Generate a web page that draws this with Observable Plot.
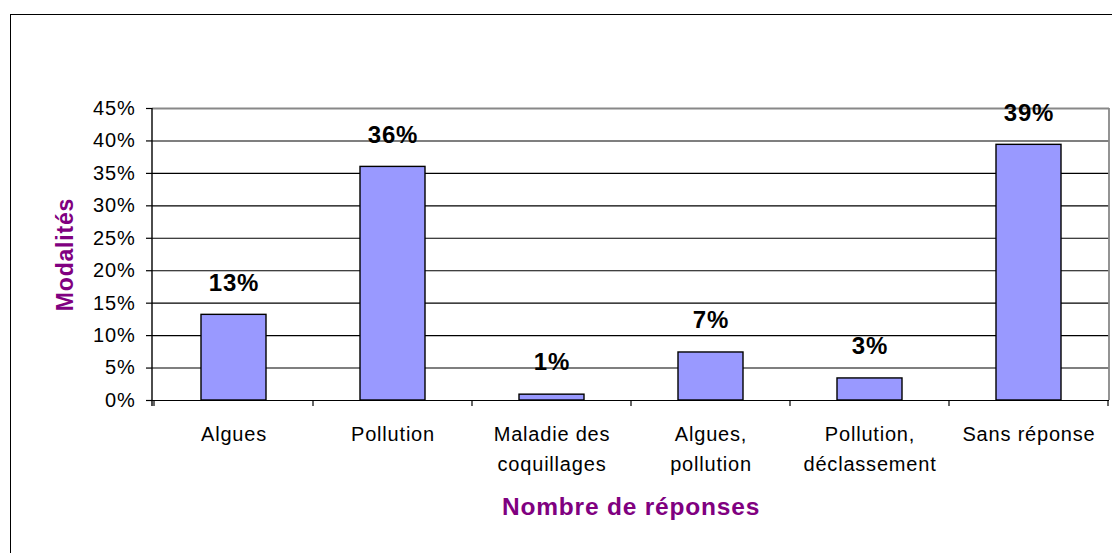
<!DOCTYPE html>
<html>
<head>
<meta charset="utf-8">
<script src="https://cdn.jsdelivr.net/npm/d3@7"></script>
<script src="https://cdn.jsdelivr.net/npm/@observablehq/plot@0.6"></script>
<style>
  html, body { margin: 0; padding: 0; background: #fff; overflow: hidden; }
  #wrap { position: relative; width: 1112px; height: 553px; overflow: hidden; font-family: "Liberation Sans", Arial, sans-serif; }
  #frame { position: absolute; left: 10px; top: 14px; width: 1200px; height: 700px; border: 1.5px solid #000; box-sizing: border-box; }
  #chart { position: absolute; left: 0; top: 0; }
</style>
</head>
<body>
<div id="wrap"><div id="frame"></div><div id="chart"></div></div>
<script>
const categories = ["Algues", "Pollution", "Maladie des\ncoquillages", "Algues,\npollution", "Pollution,\ndéclassement", "Sans réponse"];
const values = [0.132, 0.36, 0.009, 0.074, 0.034, 0.394];
const valueLabels = ["13%", "36%", "1%", "7%", "3%", "39%"];
const yTicks = [0, 0.05, 0.10, 0.15, 0.20, 0.25, 0.30, 0.35, 0.40, 0.45];
const xTitle = "Nombre de réponses";
const yTitle = "Modalités";

const data = categories.map((c, i) => ({cat: c, value: values[i], label: valueLabels[i]}));

const frameMark = (index, scales, values_, dims) => {
  const {x} = scales;
  const left = dims.marginLeft, right = dims.width - dims.marginRight;
  const top = dims.marginTop, bottom = dims.height - dims.marginBottom;
  const g = d3.create("svg:g");
  const bounds = categories.map(c => x(c)).concat([x(categories[categories.length - 1]) + x.bandwidth()]);
  g.selectAll("line.tk").data(bounds).join("line")
    .attr("x1", d => d).attr("x2", d => d).attr("y1", bottom).attr("y2", bottom + 6)
    .attr("stroke", "#000").attr("stroke-width", 1.2);
  g.append("line").attr("x1", right).attr("x2", right).attr("y1", top).attr("y2", bottom)
    .attr("stroke", "#888").attr("stroke-width", 1.8);
  g.append("line").attr("x1", left).attr("x2", left).attr("y1", top).attr("y2", bottom + 6)
    .attr("stroke", "#000").attr("stroke-width", 1.4);
  return g.node();
};

const chart = Plot.plot({
  width: 1112,
  height: 553,
  marginLeft: 152,
  marginRight: 3,
  marginTop: 108,
  marginBottom: 153,
  style: {fontFamily: "'Liberation Sans', Arial, sans-serif", background: "transparent"},
  x: {domain: categories, padding: 0, label: null},
  y: {domain: [0, 0.45], label: null},
  marks: [
    Plot.ruleY(yTicks, {stroke: d => d === 0.45 ? "#888" : "#000", strokeWidth: d => d === 0.45 ? 1.8 : 1.1}),
    Plot.barY(data, {x: "cat", y: "value", fill: "#9999FF", stroke: "#000", strokeWidth: 1.4, insetLeft: 47, insetRight: 47}),
    Plot.text(data, {x: "cat", y: "value", text: "label", dy: -32, fontSize: 24, fontWeight: "bold", fill: "#000"}),
    frameMark,
    Plot.axisY({ticks: yTicks, tickFormat: d => Math.round(d * 100) + "%", tickSize: 6, tickPadding: 11, fontSize: 20, stroke: "#000", strokeWidth: 1.2, label: null, fill: "#000"}),
    Plot.axisX({tickSize: 0, tickPadding: 19, fontSize: 20, lineHeight: 1.5, label: null, fill: "#000"}),
    Plot.text([xTitle], {frameAnchor: "bottom", dy: 107, text: d => d, fontSize: 24.5, fontWeight: "bold", fill: "#800080", lineAnchor: "middle"}),
    Plot.text([yTitle], {frameAnchor: "left", dx: -87, rotate: -90, textAnchor: "middle", text: d => d, fontSize: 23, fontWeight: "bold", fill: "#800080"})
  ]
});
document.getElementById("chart").appendChild(chart);
d3.select(chart).selectAll("text").style("letter-spacing", "0.8px");
</script>
</body>
</html>
